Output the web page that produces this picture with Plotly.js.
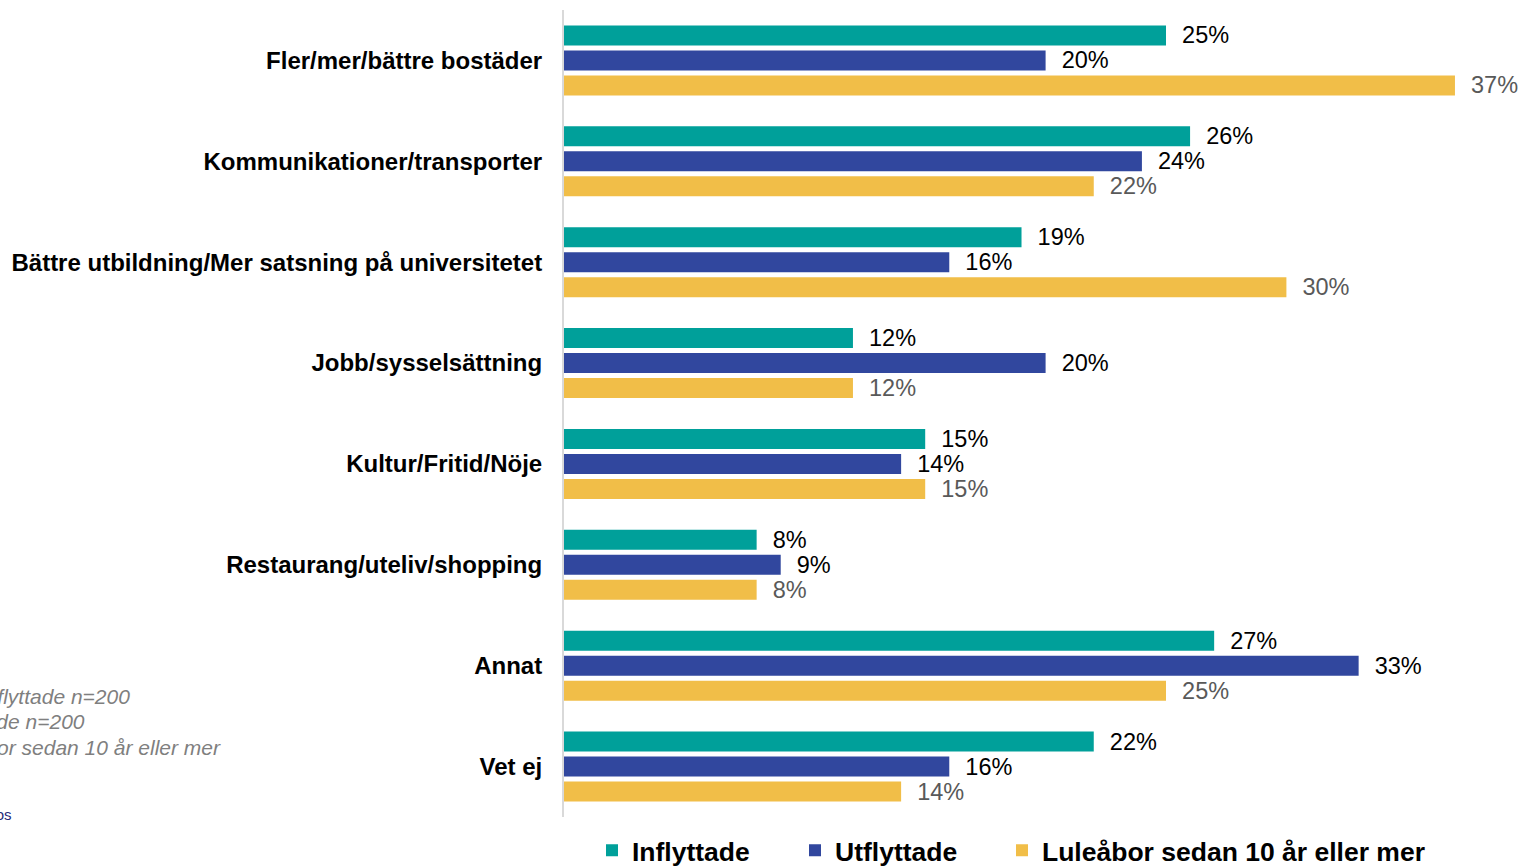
<!DOCTYPE html>
<html>
<head>
<meta charset="utf-8">
<script src="https://cdn.plot.ly/plotly-3.0.1.min.js"></script>
<style>
html,body{margin:0;padding:0;background:#fff;}
#chart{width:1522px;height:866px;}
</style>
</head>
<body>
<div id="chart"></div>
<script>
const categories = [
  "Fler/mer/bättre bostäder",
  "Kommunikationer/transporter",
  "Bättre utbildning/Mer satsning på universitetet",
  "Jobb/sysselsättning",
  "Kultur/Fritid/Nöje",
  "Restaurang/uteliv/shopping",
  "Annat",
  "Vet ej"
];
const seriesNames = ["Inflyttade", "Utflyttade", "Luleåbor sedan 10 år eller mer"];
const inflyttade = [25, 26, 19, 12, 15, 8, 27, 22];
const utflyttade = [20, 24, 16, 20, 14, 9, 33, 16];
const luleabor = [37, 22, 30, 12, 15, 8, 25, 14];
const footnotes = ["Bas: Inflyttade n=200", "Utflyttade n=200", "Luleåbor sedan 10 år eller mer"];
const source = "Källa: Ipsos";

const colors = ["#00A09A", "#31479E", "#F1BE48"];
const labelColors = ["#000000", "#000000", "#595959"];
const values = [inflyttade, utflyttade, luleabor];
const legendIds = ["legend", "legend2", "legend3"];
const FONT = "Liberation Sans, Arial, sans-serif";

const traces = values.map((v, i) => ({
  type: "bar",
  orientation: "h",
  name: seriesNames[i],
  legend: legendIds[i],
  x: v,
  y: categories,
  marker: {color: colors[i]},
  text: v.map(d => "\u00a0\u00a0" + d + "%"),
  texttemplate: "%{text}",
  textposition: "outside",
  constraintext: "none",
  cliponaxis: false,
  outsidetextfont: {family: FONT, size: 23.5, color: labelColors[i]},
  hoverinfo: "none"
}));

const L = 564, W = 958, T = 9.5, H = 808;
function px(x) { return (x - L) / W; }
function py(y) { return (T + H - y) / H; }

const annotations = [
  {text: footnotes[0], x: px(132), y: py(697)},
  {text: footnotes[1], x: px(87), y: py(722)},
  {text: footnotes[2], x: px(223), y: py(748)}
].map(a => Object.assign(a, {
  xref: "paper", yref: "paper", xanchor: "right", yanchor: "middle",
  showarrow: false,
  font: {family: FONT, size: 21, color: "#7F7F7F", style: "italic"}
}));
annotations.push({
  text: source, x: px(14), y: py(815), xref: "paper", yref: "paper",
  xanchor: "right", yanchor: "middle", showarrow: false,
  font: {family: FONT, size: 15, color: "#1F2A7A"}
});

function legendAt(xStart) {
  return {
    orientation: "h",
    x: px(xStart), xanchor: "left",
    y: py(851), yanchor: "middle",
    font: {family: FONT, size: 26.5, color: "#000000", weight: "bold"},
    bgcolor: "rgba(0,0,0,0)",
    borderwidth: 0
  };
}

const layout = {
  width: 1522, height: 866,
  margin: {l: L, r: 1522 - L - W, t: T, b: 866 - T - H, pad: 0, autoexpand: false},
  paper_bgcolor: "#ffffff", plot_bgcolor: "#ffffff",
  barmode: "group",
  bargap: 0.257,
  bargroupgap: 0.2,
  showlegend: true,
  legend: legendAt(592),
  legend2: legendAt(795),
  legend3: legendAt(1002),
  xaxis: {
    range: [0, W / 24.08],
    showgrid: false, zeroline: false, showticklabels: false,
    ticks: "", showline: false, fixedrange: true
  },
  yaxis: {
    autorange: "reversed",
    type: "category",
    showgrid: false, zeroline: false,
    showline: true, linecolor: "#D9D9D9", linewidth: 2,
    ticks: "", ticklabelstandoff: 15,
    tickfont: {family: FONT, size: 24, color: "#000000", weight: "bold"},
    fixedrange: true
  },
  annotations: annotations
};

Plotly.newPlot("chart", traces, layout, {displayModeBar: false, staticPlot: true});
</script>
</body>
</html>
